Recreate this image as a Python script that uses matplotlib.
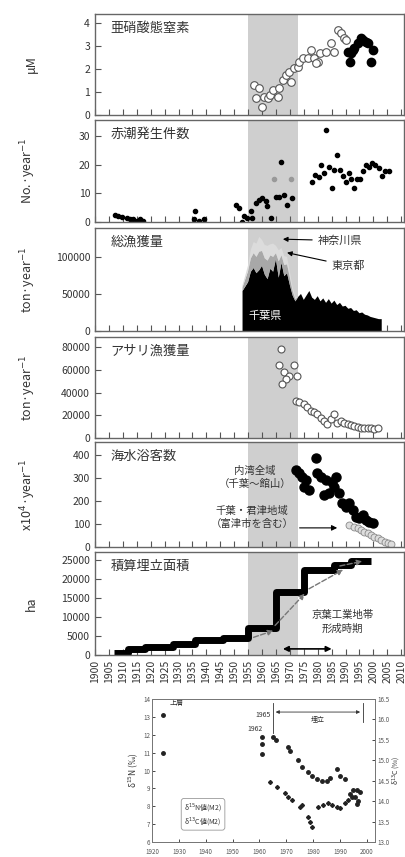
import matplotlib
matplotlib.use("Agg")
import matplotlib.pyplot as plt
import numpy as np

plt.rcParams['font.family'] = ['Noto Sans CJK JP', 'DejaVu Sans']

# --- panel 1: 亜硝酸態窒素 (μM) ---
no2_open_years = [1957, 1958.8, 1957.7, 1960, 1960.6, 1962, 1963, 1964, 1965.6, 1966,
                  1967.4, 1968.5, 1969.6, 1970.3, 1971.4, 1972.8, 1973.2, 1974.6, 1976.5,
                  1977.5, 1978.6, 1980, 1979.3, 1981, 1983, 1984.7, 1985.8, 1987.3,
                  1988.4, 1989.5, 1990.2]
no2_open_vals = [1.3, 1.17, 0.73, 0.36, 0.8, 0.73, 0.87, 1.1, 0.8, 1.17,
                 1.52, 1.74, 1.87, 1.45, 2.03, 2.1, 2.3, 2.5, 2.47,
                 2.83, 2.47, 2.3, 2.26, 2.7, 2.74, 3.13, 2.74, 3.7,
                 3.56, 3.35, 3.26]
no2_fill_years = [1991, 1991.5, 1992, 1992.7, 1993, 1994.5, 1995.5, 1996.3, 1997.4,
                  1998, 1999.2, 1999.9]
no2_fill_vals = [2.74, 2.3, 2.7, 2.83, 2.9, 3.13, 3.35, 3.26, 3.17, 3.13, 2.3, 2.83]

# --- panel 2: 赤潮発生件数 ---
redtide_years = [1907.2, 1908.4, 1909.6, 1911.4, 1912.6, 1913.8, 1915, 1916.2, 1917.4,
                 1936, 1935.5, 1937.3, 1939, 1950.5, 1951.7, 1952.9, 1953.5, 1954.7,
                 1955.9, 1956.5, 1957.7, 1958.9, 1960, 1961.3, 1961.9, 1963.1, 1964.9,
                 1966.1, 1966.7, 1967.9, 1969.1, 1970.9,
                 1977.9, 1979.1, 1980.3, 1981.1, 1982.1, 1982.9, 1984.1, 1985.1, 1985.9,
                 1987.1, 1988.1, 1989.2, 1990.1, 1991.1, 1991.9, 1993.1, 1994.1, 1995.2,
                 1996.2, 1997.4, 1998.3, 1999.5, 2000.7, 2001.9, 2003.1, 2004.3, 2005.5]
redtide_vals = [2.5, 2.0, 1.8, 1.4, 1.2, 0.9, 0.4, 0.9, 0.4,
                3.7, 0.9, 0.4, 0.9, 5.8, 4.9, 0.1, 2.0, 1.4,
                3.7, 1.4, 6.6, 7.8, 8.4, 7.2, 5.5, 1.4, 8.6,
                8.6, 21, 9.5, 5.8, 8.4,
                13.9, 16.5, 15.6, 20, 17.1, 32, 19.1, 11.8, 18.2,
                23.2, 18.2, 15.9, 13.9, 17.1, 14.8, 11.8, 15, 15,
                17.9, 20, 19.1, 20.4, 20, 18.8, 15.9, 17.9, 17.9]
redtide_gray_years = [1964.3, 1970.3]
redtide_gray_vals = [15, 15]

# --- panel 3: 総漁獲量 (千葉県 / 東京都 / 神奈川県) ---
catch_years = list(range(1953, 2004))
catch_chiba = [54000, 60000, 66000, 80000, 85000, 78000, 82000, 88000, 76000, 70000,
               84000, 80000, 97000, 72000, 92000, 74000, 78000, 62000, 48000, 40000,
               46000, 50000, 42000, 48000, 54000, 45000, 42000, 47000, 40000, 44000,
               38000, 43000, 37000, 41000, 35000, 38000, 33000, 34000, 30000, 31000,
               27000, 28000, 24000, 25000, 22000, 21000, 19000, 18000, 17000, 16000,
               16000]
catch_tokyo = [5000, 10000, 15000, 18000, 20000, 22000, 25000, 20000, 22000, 25000,
               18000, 20000, 8000, 22000, 10000, 15000, 12000, 10000, 6000, 3000] + [0] * 31
catch_kanagawa = [3000, 5000, 8000, 12000, 15000, 18000, 20000, 15000, 18000, 20000,
                  15000, 18000, 10000, 15000, 10000, 12000, 10000, 8000, 5000, 3000] + [0] * 31

# --- panel 4: アサリ漁獲量 ---
clam_years = [1966.7, 1966.1, 1971.5, 1967.9, 1969.7, 1968.5, 1967.3, 1972.7, 1972.1,
              1973.3, 1975.1, 1976.3, 1977.5, 1978.7, 1979.9, 1981.1, 1982.3, 1983.5,
              1984.7, 1985.9, 1987.1, 1988.4, 1989.6, 1990.8, 1992, 1993.2, 1994.4,
              1995.6, 1996.8, 1998, 1999.2, 2000.4, 2001.6]
clam_vals = [78800, 64000, 64000, 58000, 55000, 52000, 47700, 55000, 33000,
             31400, 29900, 26900, 24000, 22500, 21000, 18000, 15100, 12200,
             16600, 21000, 13600, 15100, 13600, 12200, 11600, 10700, 9800,
             9000, 8600, 9000, 8600, 7700, 8600]

# --- panel 5: 海水浴客数 (x10^4) ---
bath_all_years = [1972.1, 1973.3, 1974.5, 1975.7, 1975.1, 1976.9, 1979.3, 1979.9, 1981.1,
                  1982.9, 1982.3, 1984.1, 1985.3, 1986.5, 1985.9, 1987.7, 1988.9, 1990.1,
                  1991.3, 1992.5, 1993.8, 1995, 1996.2, 1997.4, 1998.6, 1999.8]
bath_all_vals = [335, 320, 306, 291, 262, 248, 386, 320, 306,
                 291, 226, 233, 284, 306, 262, 233, 190, 175,
                 190, 161, 132, 125, 139, 117, 110, 103]
bath_chiba_years = [1991.3, 1993.1, 1994.4, 1995.6, 1996.8, 1998, 1999.2, 2000.4,
                    2001.6, 2002.8, 2004, 2005.2, 2006.4]
bath_chiba_vals = [96, 88, 81, 74, 67, 60, 52, 45, 38, 30, 23, 19, 13]

# --- panel 6: 積算埋立面積 (ha) ---
fill_years = [1907, 1912, 1918, 1928, 1936, 1946, 1955, 1965, 1975, 1986, 1992, 1999]
fill_area = [450, 1600, 2000, 3000, 3900, 4400, 7000, 16400, 22400, 23700, 24600, 24600]

# --- bottom inset: 安定同位体比 ---
iso_n_years = [1924, 1924, 1961, 1961, 1961, 1965, 1966.1, 1970.6, 1971.4, 1974.3,
               1975.8, 1978.1, 1979.5, 1981.4, 1983.3, 1985.1, 1986.2, 1988.8, 1990,
               1991.8, 1993.7, 1994.8, 1996.3, 1997.4, 1996.7, 1995.5, 1994.4, 1996.3]
iso_n_vals = [13.1, 11.0, 11.9, 11.5, 10.9, 11.9, 11.7, 11.3, 11.1, 10.6,
              10.2, 9.9, 9.7, 9.5, 9.4, 9.4, 9.6, 10.1, 9.7,
              9.5, 8.7, 8.9, 8.9, 8.8, 8.3, 8.5, 8.5, 8.1]
iso_c_years = [1963.9, 1966.5, 1969.5, 1970.6, 1972.1, 1975.1, 1975.8, 1978.1, 1978.8,
               1979.5, 1981.8, 1983.6, 1985.5, 1987, 1988.8, 1990, 1991.8, 1992.9]
iso_c_vals = [14.47, 14.35, 14.2, 14.1, 14.03, 13.86, 13.9, 13.6, 13.5,
              13.37, 13.86, 13.9, 13.95, 13.9, 13.86, 13.83, 13.95, 14.03]

shade = (1955, 1973)
year_ticks = list(range(1900, 2011, 5))
txt = '#333333'

fig = plt.figure(figsize=(4.06, 8.57), dpi=100)
W, H = 406, 857


def px_axes(left, top, right, bottom):
    return fig.add_axes([left / W, 1 - bottom / H, (right - left) / W, (bottom - top) / H])


panels = [(14, 115), (120, 222), (228, 331), (337, 438), (442, 547), (552, 655)]
axes = [px_axes(95, t, 404, b) for t, b in panels]
titles = ['亜硝酸態窒素', '赤潮発生件数', '総漁獲量', 'アサリ漁獲量', '海水浴客数', '積算埋立面積']
ylabels = ['μM', 'No.·year$^{-1}$', 'ton·year$^{-1}$', 'ton·year$^{-1}$',
           'x10$^4$·year$^{-1}$', 'ha']

for ax, title, ylab in zip(axes, titles, ylabels):
    ax.axvspan(*shade, color='#cfcfcf', lw=0, zorder=0)
    ax.set_xlim(1900, 2011)
    ax.set_xticks(year_ticks)
    ax.tick_params(direction='in', labelsize=7.5, colors='#555555', labelcolor=txt,
                   length=4, width=0.8)
    ax.tick_params(axis='x', labelbottom=False)
    for s in ax.spines.values():
        s.set_color('#666666')
        s.set_linewidth(1.0)
    ax.text(0.05, 0.86, title, transform=ax.transAxes, fontsize=9.5, color=txt,
            va='center', ha='left', zorder=5)
    ax.set_ylabel(ylab, fontsize=9, color=txt)
    ax.yaxis.set_label_coords(-0.185, 0.5)

ax1, ax2, ax3, ax4, ax5, ax6 = axes

# panel 1
ax1.plot(no2_open_years, no2_open_vals, 'o', mfc='white', mec='#555555', ms=5.5, mew=0.8)
ax1.plot(no2_fill_years, no2_fill_vals, 'o', color='black', ms=6)
ax1.set_ylim(0, 4.4)
ax1.set_yticks([0, 1, 2, 3, 4])

# panel 2
ax2.plot(redtide_years, redtide_vals, 'o', color='black', ms=3)
ax2.plot(redtide_gray_years, redtide_gray_vals, 'o', color='#999999', ms=3)
ax2.set_ylim(0, 35.5)
ax2.set_yticks([0, 10, 20, 30])

# panel 3
ax3.stackplot(catch_years, catch_chiba, catch_tokyo, catch_kanagawa,
              colors=['black', '#a8a8a8', '#dcdcdc'], lw=0, zorder=2)
ax3.set_ylim(0, 139000)
ax3.set_yticks([0, 50000, 100000])
ax3.text(1961, 20000, '千葉県', color='white', fontsize=8, ha='center', va='center', zorder=5)
ax3.annotate('神奈川県', xy=(1966.5, 124000), xytext=(1980, 122000), fontsize=8, color=txt,
             va='center', arrowprops=dict(arrowstyle='-|>', color='black', lw=0.8,
                                          mutation_scale=7))
ax3.annotate('東京都', xy=(1968, 106500), xytext=(1985, 88000), fontsize=8, color=txt,
             va='center', arrowprops=dict(arrowstyle='-|>', color='black', lw=0.8,
                                          mutation_scale=7))

# panel 4
ax4.plot(clam_years, clam_vals, 'o', mfc='white', mec='#555555', ms=5, mew=0.8)
ax4.set_ylim(0, 89000)
ax4.set_yticks([0, 20000, 40000, 60000, 80000])

# panel 5
ax5.plot(bath_all_years, bath_all_vals, 'o', color='black', ms=6.5)
ax5.plot(bath_chiba_years, bath_chiba_vals, 'o', mfc='#dddddd', mec='#888888', ms=5, mew=0.6)
ax5.set_ylim(0, 456)
ax5.set_yticks([0, 100, 200, 300, 400])
ax5.text(1957.5, 302, '内湾全域\n（千葉～館山）', fontsize=7.5, color=txt, ha='center',
         va='center', linespacing=1.4, zorder=5)
ax5.text(1956.5, 128, '千葉・君津地域\n（富津市を含む）', fontsize=7.5, color=txt, ha='center',
         va='center', linespacing=1.4, zorder=5)
ax5.annotate('', xy=(1988, 83), xytext=(1972.5, 83),
             arrowprops=dict(arrowstyle='-|>', color='black', lw=0.8, mutation_scale=8))

# panel 6
ax6.step(fill_years, fill_area, where='post', color='black', lw=5, solid_capstyle='butt')
ax6.set_ylim(0, 27000)
ax6.set_yticks([0, 5000, 10000, 15000, 20000, 25000])
for (x0, y0), (x1, y1) in [((1956, 4400), (1965, 6600)), ((1964, 7200), (1976, 16600)),
                           ((1976, 17000), (1990, 22700)), ((1987, 23200), (1997, 24700))]:
    ax6.annotate('', xy=(x1, y1), xytext=(x0, y0),
                 arrowprops=dict(arrowstyle='-|>', color='#777777', lw=1.0, ls='--',
                                 mutation_scale=8), zorder=4)
ax6.text(1989, 8700, '京葉工業地帯\n形成時期', fontsize=7.5, color=txt, ha='center',
         va='center', linespacing=1.5)
ax6.annotate('', xy=(1986, 1600), xytext=(1966.5, 1600),
             arrowprops=dict(arrowstyle='<|-|>', color='black', lw=1.2, mutation_scale=8))
ax6.tick_params(axis='x', labelbottom=True, labelrotation=90, labelsize=7.5)

# bottom inset
axb = px_axes(152, 699, 375, 842)
axb.set_xlim(1920, 2003)
axb.set_xticks(range(1920, 2001, 10))
axb.plot(iso_n_years, iso_n_vals, 'o', color='#222222', ms=2.5)
axb.set_ylim(6, 14)
axb.set_yticks(range(6, 15))
axb.set_ylabel('δ$^{15}$N (‰)', fontsize=6, color=txt, labelpad=2)
axr = axb.twinx()
axr.plot(iso_c_years, iso_c_vals, 'D', color='#222222', ms=2)
axr.set_ylim(13.0, 16.5)
axr.set_yticks(np.arange(13.0, 16.6, 0.5))
axr.set_ylabel('δ$^{13}$C (‰)', fontsize=5, color=txt, labelpad=1)
for a in (axb, axr):
    a.tick_params(direction='in', labelsize=4.5, labelcolor='#555555', length=2, width=0.5,
                  pad=1.5)
    for s in a.spines.values():
        s.set_color('#777777')
        s.set_linewidth(0.7)
axb.tick_params(axis='x', pad=4)
axb.text(1926.5, 13.75, '上層', fontsize=5, color=txt, va='center')
axb.text(1955.5, 12.3, '1962', fontsize=5, color=txt, va='center')
axb.text(1958.5, 13.1, '1965', fontsize=5, color=txt, va='center')
axb.plot([1965, 1965], [12.1, 13.75], color='#333333', lw=0.6)
axb.plot([1998.5, 1998.5], [12.7, 13.75], color='#333333', lw=0.6)
axb.annotate('', xy=(1998.5, 13.27), xytext=(1965, 13.27),
             arrowprops=dict(arrowstyle='<|-|>', color='#333333', lw=0.6, mutation_scale=5))
axb.text(1981.5, 12.85, '埋立', fontsize=5, color=txt, ha='center', va='center')
axb.text(1939, 7.55, 'δ$^{15}$N値(M2)\nδ$^{13}$C値(M2)', fontsize=5, color=txt,
         ha='center', va='center', linespacing=1.3,
         bbox=dict(boxstyle='round,pad=0.4', fc='white', ec='#999999', lw=0.6))

fig.savefig('out.png', dpi=100)
